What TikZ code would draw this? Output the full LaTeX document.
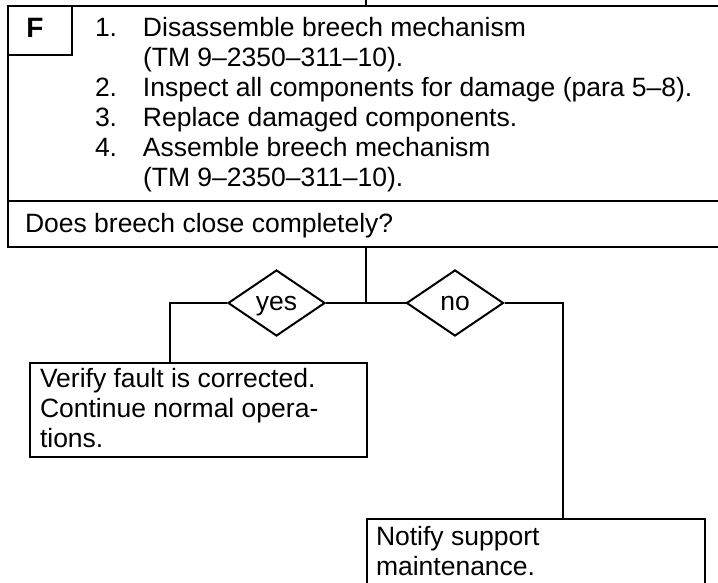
\documentclass[tikz,border=0pt]{standalone}
\usepackage{fontspec}
\setmainfont{Liberation Sans}
\usetikzlibrary{shapes.geometric, positioning}

\begin{document}
\begin{tikzpicture}[x=1pt, y=-1pt, line width=2pt,
  box/.style={draw, rectangle, inner sep=0pt, anchor=north west},
  txt/.style={font=\fontsize{26.5pt}{30pt}\selectfont, inner sep=0pt,
              anchor=base west},
  choice/.style={draw, diamond, inner sep=0pt, minimum width=97pt,
                 minimum height=66pt, text height=15pt, text depth=0pt,
                 font=\fontsize{26.5pt}{30pt}\selectfont},
]
\useasboundingbox (0,0) rectangle (718,583);
\clip (0,0) rectangle (718,583);

%% Step F: procedure and question
\node[box, minimum width=733pt, minimum height=195pt] (steps) at (7,5) {};
\node[box, minimum width=64pt, minimum height=49pt] (tag) at (7,5) {};
\node[font=\fontsize{28pt}{28pt}\selectfont\bfseries, inner sep=0pt] (tagF) at (35,28) {F};
\node[txt] (list) at (94,36.7) {%
  \begin{tabular}[t]{@{}p{48pt}@{}l@{}}
  1. & Disassemble breech mechanism\\
     & (TM 9–2350–311–10).\\
  2. & Inspect all components for damage (para 5–8).\\
  3. & Replace damaged components.\\
  4. & Assemble breech mechanism\\
     & (TM 9–2350–311–10).
  \end{tabular}};
\node[box, minimum width=733pt, minimum height=46pt] (question) at (7,200) {};
\node[txt] (qtxt) at (24,232.7) {Does breech close completely?};

%% Decision
\coordinate (entry) at (365.5,0);
\coordinate (split) at (365.5,303);
\node[choice] (yes) at (276.5,303) {yes};
\node[choice] (no)  at (455,303) {no};
\coordinate (yturn) at (170,303);
\coordinate (nturn) at (563,303);

%% Outcomes
\node[box, minimum width=337pt, minimum height=94pt] (done) at (29,362) {};
\node[txt] (donetxt) at (39,387) {%
  \begin{tabular}[t]{@{}l@{}}
  Verify fault is corrected.\\
  Continue normal opera-\\
  tions.
  \end{tabular}};
\node[box, minimum width=338pt, minimum height=90pt] (notify) at (365.5,518) {};
\node[txt] (notifytxt) at (375,545) {%
  \begin{tabular}[t]{@{}l@{}}
  Notify support\\
  maintenance.
  \end{tabular}};

\draw (entry) -- (entry |- steps.north);
\draw (question.south -| split) -- (split);
\draw (split) -- (yes.east);
\draw (split) -- (no.west);
\draw (yes.west) -- (yturn) -- (yturn |- done.north);
\draw (no.east) -- (nturn) -- (nturn |- notify.north);
\end{tikzpicture}
\end{document}
